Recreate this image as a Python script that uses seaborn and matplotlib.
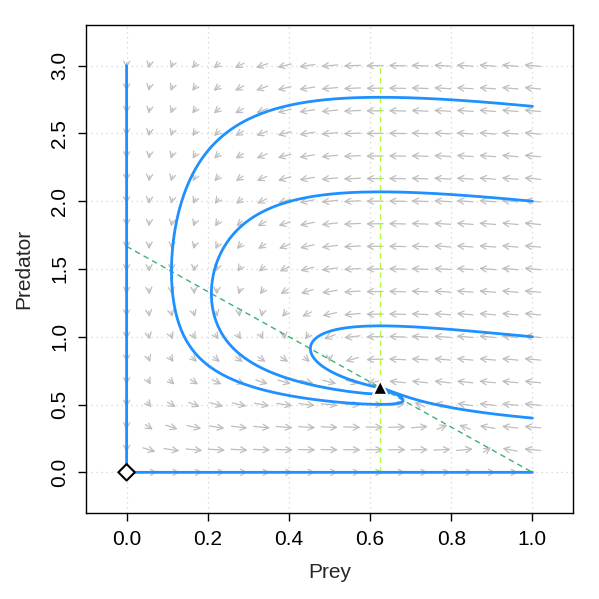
import numpy as np
import pandas as pd
import matplotlib
matplotlib.use("Agg")
import matplotlib.pyplot as plt
import seaborn as sns

# model: logistic prey, linear predator response
r = 1.0
a = 0.6
b = 0.45
d = 0.28125

# trajectory start points
start_x = [1.0, 1.0, 1.0, 1.0, 0.0, 0.001]
start_y = [0.4, 1.0, 2.0, 2.7, 3.0, 0.0]
t_end = 30.0
dt = 0.01

# equilibria
eq_x = [0.0, 0.625]
eq_y = [0.0, 0.625]
eq_kind = ["unstable", "stable"]

x_ticks = [0.0, 0.2, 0.4, 0.6, 0.8, 1.0]
y_ticks = [0.0, 0.5, 1.0, 1.5, 2.0, 2.5, 3.0]


def deriv(x, y):
    return r * x * (1 - x) - a * x * y, y * (b * x - d)


def trajectory(x0, y0):
    xs, ys = [x0], [y0]
    x, y = x0, y0
    for _ in range(int(t_end / dt)):
        k1 = deriv(x, y)
        k2 = deriv(x + dt / 2 * k1[0], y + dt / 2 * k1[1])
        k3 = deriv(x + dt / 2 * k2[0], y + dt / 2 * k2[1])
        k4 = deriv(x + dt * k3[0], y + dt * k3[1])
        x += dt / 6 * (k1[0] + 2 * k2[0] + 2 * k3[0] + k4[0])
        y += dt / 6 * (k1[1] + 2 * k2[1] + 2 * k3[1] + k4[1])
        xs.append(x)
        ys.append(y)
    return pd.DataFrame({"x": xs, "y": ys})


sns.set_style("white")
plt.rcParams["font.family"] = ["Liberation Sans", "DejaVu Sans"]

fig = plt.figure(figsize=(5.99, 5.99), dpi=100)
ax = fig.add_axes([0.1436, 0.1436, 0.813, 0.8147])

# grid
for t in x_ticks:
    ax.axvline(t, color="#d3d3d3", lw=0.9, ls=(0, (1, 3)), zorder=0)
for t in y_ticks:
    ax.axhline(t, color="#d3d3d3", lw=0.9, ls=(0, (1, 3)), zorder=0)

# flow field, equal length arrows
gx = np.linspace(0, 1, 19)
gy = np.linspace(0, 3, 19)
L = 0.75 * (gx[1] - gx[0])
for xi in gx:
    for yi in gy:
        u, v = deriv(xi, yi)
        n = np.hypot(u, v)
        if n < 1e-12:
            continue
        u, v = L * u / n, L * v / n
        ax.annotate("", xy=(xi + u / 2, yi + v / 2), xytext=(xi - u / 2, yi - v / 2),
                    arrowprops=dict(arrowstyle="->,head_length=0.35,head_width=0.18",
                                    color="#bebebe", lw=0.9, mutation_scale=12,
                                    shrinkA=0, shrinkB=0), zorder=1)

# nullclines
nx = np.array([0.0, 1.0])
ax.plot(nx, r / a * (1 - nx), color="#3cb371", lw=1, ls=(0, (4, 3)), zorder=2)
ax.plot([d / b, d / b], [0, 3], color="#adff2f", lw=1, ls=(0, (4, 3)), zorder=2)

# trajectories
for x0, y0 in zip(start_x, start_y):
    tr = trajectory(x0, y0)
    sns.lineplot(data=tr, x="x", y="y", sort=False, estimator=None,
                 color="#1e90ff", lw=2, ax=ax, zorder=3)

# equilibria
eq = pd.DataFrame({"x": eq_x, "y": eq_y, "kind": eq_kind})
sns.scatterplot(data=eq, x="x", y="y", style="kind",
                markers={"unstable": "D", "stable": "^"},
                hue="kind", palette={"unstable": "white", "stable": "black"},
                edgecolor="black", s=[70, 110], linewidth=1.5, legend=False, ax=ax, zorder=4)
ax.collections[-1].set_edgecolors(["black", "white"])

ax.set_xlim(-0.1, 1.1)
ax.set_ylim(-0.3, 3.3)
ax.set_xticks(x_ticks)
ax.set_xticklabels([f"{t:.1f}" for t in x_ticks])
ax.set_yticks(y_ticks)
ax.set_yticklabels([f"{t:.1f}" for t in y_ticks], rotation=90, va="center")
ax.tick_params(direction="out", length=6, width=1, labelsize=15, pad=6,
               left=True, bottom=True, colors="black")
ax.set_xlabel("Prey", fontsize=15, labelpad=10)
ax.set_ylabel("Predator", fontsize=15, labelpad=12)
for s in ax.spines.values():
    s.set_color("black")
    s.set_linewidth(1)

fig.savefig("out.png", dpi=100)
